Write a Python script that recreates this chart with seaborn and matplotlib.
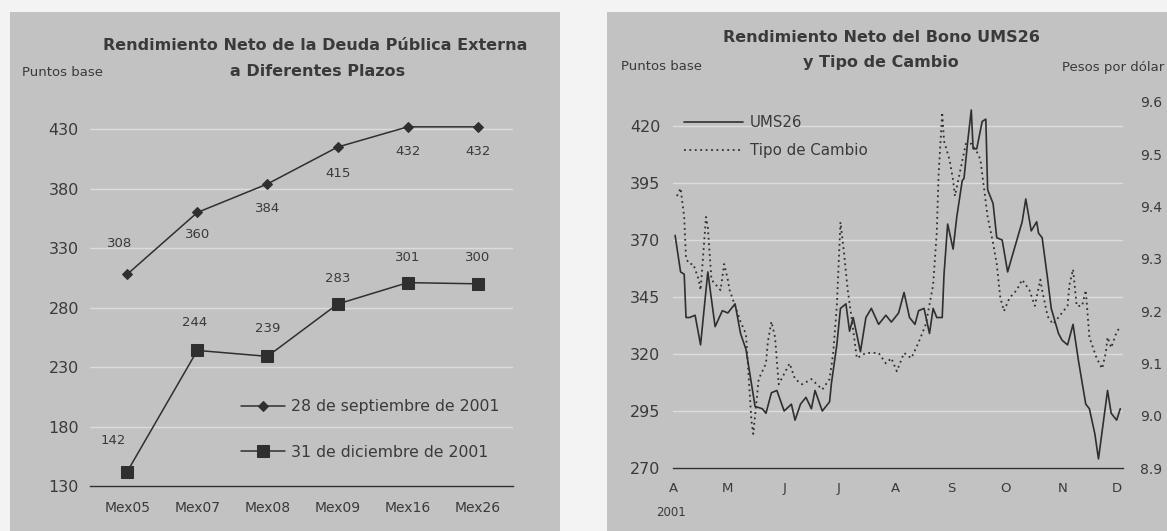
import pandas as pd
import matplotlib
matplotlib.use("Agg")
import matplotlib.pyplot as plt
from matplotlib.patches import Rectangle
import seaborn as sns

# ---- datos: rendimiento por plazo ----
bonos = ["Mex05", "Mex07", "Mex08", "Mex09", "Mex16", "Mex26"]
rend_sep = [308, 360, 384, 415, 432, 432]
rend_dic = [142, 244, 239, 283, 301, 300]

# ---- datos: UMS26 (puntos base) ----
ums_fechas = ["2001-04-02", "2001-04-05", "2001-04-07", "2001-04-08", "2001-04-10", "2001-04-13",
              "2001-04-16", "2001-04-19", "2001-04-20", "2001-04-24", "2001-04-28", "2001-05-01",
              "2001-05-05", "2001-05-08", "2001-05-11", "2001-05-14", "2001-05-16", "2001-05-20",
              "2001-05-22", "2001-05-25", "2001-05-28", "2001-06-01", "2001-06-05", "2001-06-07",
              "2001-06-10", "2001-06-13", "2001-06-16", "2001-06-18", "2001-06-22", "2001-06-26",
              "2001-06-27", "2001-06-30", "2001-07-02", "2001-07-05", "2001-07-07", "2001-07-09",
              "2001-07-13", "2001-07-16", "2001-07-19", "2001-07-23", "2001-07-27", "2001-07-30",
              "2001-08-03", "2001-08-06", "2001-08-09", "2001-08-12", "2001-08-14", "2001-08-17",
              "2001-08-20", "2001-08-22", "2001-08-24", "2001-08-27", "2001-08-28", "2001-08-30",
              "2001-09-02", "2001-09-04", "2001-09-07", "2001-09-08", "2001-09-10", "2001-09-12",
              "2001-09-13", "2001-09-15", "2001-09-18", "2001-09-20", "2001-09-21", "2001-09-24",
              "2001-09-26", "2001-09-29", "2001-10-02", "2001-10-06", "2001-10-10", "2001-10-12",
              "2001-10-15", "2001-10-18", "2001-10-19", "2001-10-21", "2001-10-24", "2001-10-26",
              "2001-10-30", "2001-11-01", "2001-11-04", "2001-11-07", "2001-11-10", "2001-11-14",
              "2001-11-16", "2001-11-19", "2001-11-21", "2001-11-23", "2001-11-26", "2001-11-28",
              "2001-12-01", "2001-12-03"]
ums_pb = [372, 356, 355, 336, 336, 337, 324, 348, 356, 332, 339, 338,
          342, 329, 322, 307, 297, 296, 294, 303, 304, 295, 298, 291,
          298, 301, 296, 304, 295, 299, 307, 324, 340, 342, 330, 336,
          321, 336, 340, 333, 337, 334, 338, 347, 336, 333, 339, 340,
          329, 340, 336, 336, 355, 377, 366, 380, 396, 397, 413, 427,
          410, 410, 422, 423, 392, 386, 371, 370, 356, 367, 378, 388,
          374, 378, 373, 371, 353, 340, 329, 326, 324, 333, 317, 298,
          296, 285, 274, 286, 304, 294, 291, 296]

# ---- datos: tipo de cambio (pesos por dolar) ----
tc_fechas = ["2001-04-03", "2001-04-05", "2001-04-07", "2001-04-08", "2001-04-10", "2001-04-12",
             "2001-04-15", "2001-04-16", "2001-04-19", "2001-04-20", "2001-04-22", "2001-04-27",
             "2001-04-29", "2001-05-01", "2001-05-02", "2001-05-08", "2001-05-11", "2001-05-14",
             "2001-05-15", "2001-05-18", "2001-05-22", "2001-05-23", "2001-05-25", "2001-05-27",
             "2001-05-29", "2001-06-04", "2001-06-07", "2001-06-11", "2001-06-16", "2001-06-22",
             "2001-06-26", "2001-06-28", "2001-06-30", "2001-07-02", "2001-07-04", "2001-07-06",
             "2001-07-08", "2001-07-11", "2001-07-16", "2001-07-23", "2001-07-27", "2001-07-30",
             "2001-08-02", "2001-08-06", "2001-08-10", "2001-08-14", "2001-08-18", "2001-08-22",
             "2001-08-24", "2001-08-25", "2001-08-27", "2001-08-28", "2001-08-31", "2001-09-02",
             "2001-09-03", "2001-09-09", "2001-09-12", "2001-09-15", "2001-09-17", "2001-09-21",
             "2001-09-24", "2001-09-26", "2001-09-28", "2001-09-30", "2001-10-03", "2001-10-07",
             "2001-10-10", "2001-10-14", "2001-10-17", "2001-10-20", "2001-10-21", "2001-10-24",
             "2001-10-27", "2001-11-04", "2001-11-05", "2001-11-07", "2001-11-09", "2001-11-12",
             "2001-11-14", "2001-11-16", "2001-11-20", "2001-11-23", "2001-11-25", "2001-11-26",
             "2001-11-28", "2001-12-01", "2001-12-03"]
tc_pesos = [9.42, 9.435, 9.38, 9.30, 9.29, 9.29, 9.26, 9.24, 9.38, 9.36, 9.26, 9.24,
            9.29, 9.26, 9.24, 9.18, 9.156, 8.99, 8.965, 9.07, 9.10, 9.14, 9.18, 9.15,
            9.06, 9.10, 9.07, 9.06, 9.07, 9.05, 9.07, 9.12, 9.21, 9.37, 9.31, 9.24,
            9.19, 9.11, 9.12, 9.12, 9.10, 9.11, 9.085, 9.12, 9.11, 9.14, 9.175, 9.25,
            9.35, 9.46, 9.58, 9.525, 9.49, 9.45, 9.42, 9.52, 9.52, 9.505, 9.49, 9.38,
            9.33, 9.29, 9.225, 9.20, 9.225, 9.24, 9.26, 9.24, 9.21, 9.26, 9.24, 9.19,
            9.175, 9.21, 9.25, 9.28, 9.21, 9.21, 9.24, 9.15, 9.11, 9.09, 9.12, 9.15,
            9.13, 9.16, 9.17]

meses = ["A", "M", "J", "J", "A", "S", "O", "N", "D"]

# estilo
sns.set_style("white")
plt.rcParams["font.family"] = ["DejaVu Sans"]
tinta = "#2f2f2f"
texto = "#3a3a3a"
fondo = "#c2c2c2"
rejilla = "#dcdcdc"

W, H = 1167, 531
fig = plt.figure(figsize=(11.67, 5.31), dpi=100, facecolor="#f3f3f3")

def fx(px):
    return px / W

def fy(py):
    return 1 - py / H

# paneles grises
for x0, x1 in [(10, 560), (607, 1167)]:
    fig.add_artist(Rectangle((fx(x0), 0), fx(x1) - fx(x0), fy(12), transform=fig.transFigure,
                             facecolor=fondo, edgecolor="none", zorder=-10))

# ================= grafica izquierda =================
ax1 = fig.add_axes([fx(90), fy(486), fx(513) - fx(90), fy(109) - fy(486)])
ax1.set_facecolor("none")
sns.lineplot(x=bonos, y=rend_sep, ax=ax1, color=tinta, lw=1.1, marker="D", markersize=5.5,
             markeredgecolor=tinta, label="28 de septiembre de 2001")
sns.lineplot(x=bonos, y=rend_dic, ax=ax1, color=tinta, lw=1.1, marker="s", markersize=9,
             markeredgecolor=tinta, label="31 de diciembre de 2001")
ax1.set_xlim(-0.53, 5.5)
ax1.set_ylim(130, 447)
ax1.set_yticks(range(130, 431, 50))
ax1.yaxis.grid(True, color=rejilla, lw=1)
ax1.set_axisbelow(True)
for s in ["left", "right", "top"]:
    ax1.spines[s].set_visible(False)
ax1.spines["bottom"].set_color(tinta)
ax1.spines["bottom"].set_linewidth(1.0)
ax1.tick_params(axis="y", length=0, pad=8, labelsize=11.5, labelcolor=texto)
ax1.tick_params(axis="x", length=0, pad=11, labelsize=10, labelcolor=texto)
ax1.set_xticks([i + 0.5 for i in range(5)], minor=True)
ax1.tick_params(axis="x", which="minor", length=4, direction="in", color=tinta)
ax1.set_xlabel("")
ax1.set_ylabel("")

off_sep = [(-8, 31), (0, -22), (0, -25), (0, -26), (0, -25), (0, -25)]
off_dic = [(-14, 31), (-3, 28), (0, 28), (0, 26), (0, 25), (0, 26)]
for i, v in enumerate(rend_sep):
    ax1.annotate(str(v), (i, v), xytext=off_sep[i], textcoords="offset pixels",
                 ha="center", va="center", fontsize=9.5, color=texto)
for i, v in enumerate(rend_dic):
    ax1.annotate(str(v), (i, v), xytext=off_dic[i], textcoords="offset pixels",
                 ha="center", va="center", fontsize=9.5, color=texto)

ax1.legend(loc="upper left", bbox_to_anchor=(fx(241), fy(399)), bbox_transform=fig.transFigure,
           frameon=False, fontsize=11.3, handlelength=2.8, handletextpad=0.4,
           labelspacing=1.95, borderpad=0, borderaxespad=0, labelcolor=texto)

fig.text(fx(315), fy(45), "Rendimiento Neto de la Deuda Pública Externa", ha="center", va="center",
         fontsize=11.5, fontweight="bold", color=texto)
fig.text(fx(318), fy(72), "a Diferentes Plazos", ha="center", va="center",
         fontsize=11.5, fontweight="bold", color=texto)
fig.text(fx(22), fy(73), "Puntos base", ha="left", va="center", fontsize=9.5, color=texto)

# ================= grafica derecha =================
ax2 = fig.add_axes([fx(673), fy(468), fx(1123) - fx(673), fy(100) - fy(468)])
ax2.set_facecolor("none")
sns.lineplot(x=pd.to_datetime(ums_fechas), y=ums_pb, ax=ax2, color=tinta, lw=1.2, label="UMS26")
ax3 = ax2.twinx()
sns.lineplot(x=pd.to_datetime(tc_fechas), y=tc_pesos, ax=ax3, color=tinta, lw=1.3,
             linestyle=(0, (1, 2)), label="Tipo de Cambio")
ax2.set_xlim(pd.Timestamp("2001-03-31 20:00"), pd.Timestamp("2001-12-04 12:00"))
ax2.set_ylim(270, 431.4)
ax3.set_ylim(8.9, 9.6036)
ax2.set_yticks(range(270, 421, 25))
ticks_tc = [8.9, 9.0, 9.1, 9.2, 9.3, 9.4, 9.5, 9.6]
ax3.set_yticks(ticks_tc)
ax3.set_yticklabels([f"{t:.1f}" for t in ticks_tc])
ticks_mes = pd.date_range("2001-04-01", "2001-12-01", freq="MS")
ax2.set_xticks(ticks_mes)
ax2.set_xticklabels(meses)
ax2.yaxis.grid(True, color=rejilla, lw=1)
ax2.set_axisbelow(True)
for a in (ax2, ax3):
    for s in ["left", "right", "top"]:
        a.spines[s].set_visible(False)
    a.set_xlabel("")
    a.set_ylabel("")
ax3.spines["bottom"].set_visible(False)
ax2.spines["bottom"].set_color(tinta)
ax2.spines["bottom"].set_linewidth(1.0)
ax2.tick_params(axis="y", length=0, pad=9, labelsize=11.5, labelcolor=texto)
ax3.tick_params(axis="y", length=0, pad=12, labelsize=10, labelcolor=texto)
ax2.tick_params(axis="x", length=0, pad=10, labelsize=9.5, labelcolor=texto)
ax2.annotate("2001", xy=(ticks_mes[0], 0), xycoords=("data", "axes fraction"),
             xytext=(-2, -44), textcoords="offset pixels", ha="center", va="center",
             fontsize=8.5, color=texto)

h2, l2 = ax2.get_legend_handles_labels()
h3, l3 = ax3.get_legend_handles_labels()
if ax3.get_legend() is not None:
    ax3.get_legend().remove()
ax2.legend(h2 + h3, l2 + l3, loc="upper left", bbox_to_anchor=(fx(684), fy(115)),
           bbox_transform=fig.transFigure, frameon=False, fontsize=10.8, handlelength=3.9,
           handletextpad=0.5, labelspacing=0.85, borderpad=0, borderaxespad=0, labelcolor=texto)

fig.text(fx(881), fy(38), "Rendimiento Neto del Bono UMS26", ha="center", va="center",
         fontsize=11.5, fontweight="bold", color=texto)
fig.text(fx(881), fy(63), "y Tipo de Cambio", ha="center", va="center",
         fontsize=11.5, fontweight="bold", color=texto)
fig.text(fx(621), fy(67), "Puntos base", ha="left", va="center", fontsize=9.5, color=texto)
fig.text(fx(1062), fy(68), "Pesos por dólar", ha="left", va="center", fontsize=9.5, color=texto)

fig.savefig("out.png", dpi=100, facecolor=fig.get_facecolor())
